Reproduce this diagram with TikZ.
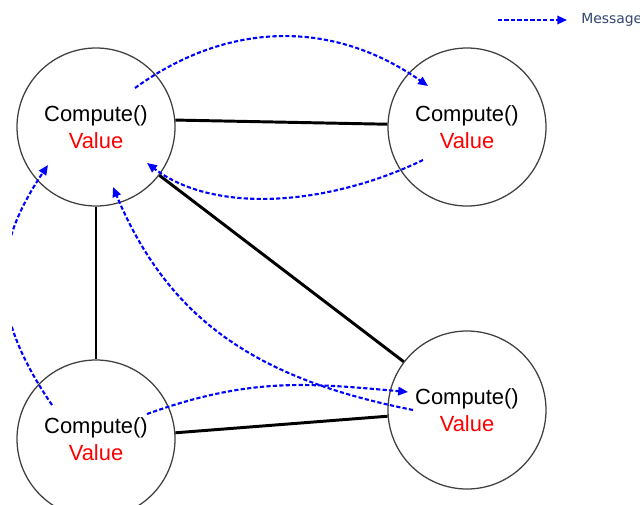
\documentclass[tikz,border=0pt]{standalone}
\usepackage{fontspec}
\setmainfont{Liberation Sans}
\newfontfamily\keyfont{DejaVu Sans}
\usetikzlibrary{arrows.meta}
\definecolor{msgtext}{RGB}{50,70,110}

\begin{document}
\begin{tikzpicture}[
    proc/.style={circle, draw=black!75, line width=0.9pt, minimum size=3.95cm,
                 inner sep=0pt, align=center, font=\fontsize{15.6}{19}\selectfont},
    link/.style={line width=2.1pt},
    msg/.style={blue, line width=1.5pt, dash pattern=on 3pt off 1.6pt,
                -{Triangle[length=7pt,width=6pt]}}
  ]
         \useasboundingbox (0,0) rectangle (16,12.6);
         \node[proc] (LT) at (2.4, 9.425)  {Compute()\\\textcolor{red}{Value}};
         \node[proc] (RT) at (11.675, 9.425) {Compute()\\\textcolor{red}{Value}};
         \node[proc] (LB) at (2.4, 1.625)  {Compute()\\\textcolor{red}{Value}};
         \node[proc] (RB) at (11.675, 2.35) {Compute()\\\textcolor{red}{Value}};
         \draw [link] (LT.5) -- (RT.178);
         \draw [link] (LT) -- (LB);
         \draw [link] (LT) -- (RB);
         \draw [link] (LB) -- (RB);
         % message ends
         \coordinate (LTa) at (3.375, 10.4);
         \coordinate (RTa) at (10.7, 10.45);
         \coordinate (RTb) at (10.575, 8.6);
         \coordinate (LTb) at (3.675, 8.525);
         \coordinate (LBa) at (1.3, 2.475);
         \coordinate (LTc) at (1.2, 8.475);
         \coordinate (RBa) at (10.325, 2.35);
         \coordinate (LTd) at (2.825, 7.925);
         \coordinate (LBb) at (3.675, 2.25);
         \coordinate (RBb) at (10.2, 2.8);
         \draw [msg] (LTa) .. controls (5.725, 12.1) and (8.35, 12.1) .. (RTa);
         \draw [msg] (RTb) .. controls (8.25, 7.475) and (5.375, 7.225) .. (LTb);
         \draw [msg] (RBa) .. controls (6.575, 3.1) and (4.275, 4.475) .. (LTd);
         \draw [msg] (LBb) .. controls (6.25, 3.175) and (7.7, 3.025) .. (RBb);
         \begin{scope}
           \clip (0.3, 0) rectangle (16, 12.6);
           \draw [msg] (LBa) .. controls (-0.25, 4.75) and (-0.25, 6.325) .. (LTc);
         \end{scope}
         % key
         \coordinate (K) at (12.45, 12.1);
         \node [anchor=west, inner sep=0pt, text=msgtext,
                font=\keyfont\fontsize{9.9}{12}\selectfont] (KT) at (14.525, 12.1) {Message};
         \draw [msg, shorten >=9.9pt] (K) -- (KT.west);
\end{tikzpicture}
\end{document}
